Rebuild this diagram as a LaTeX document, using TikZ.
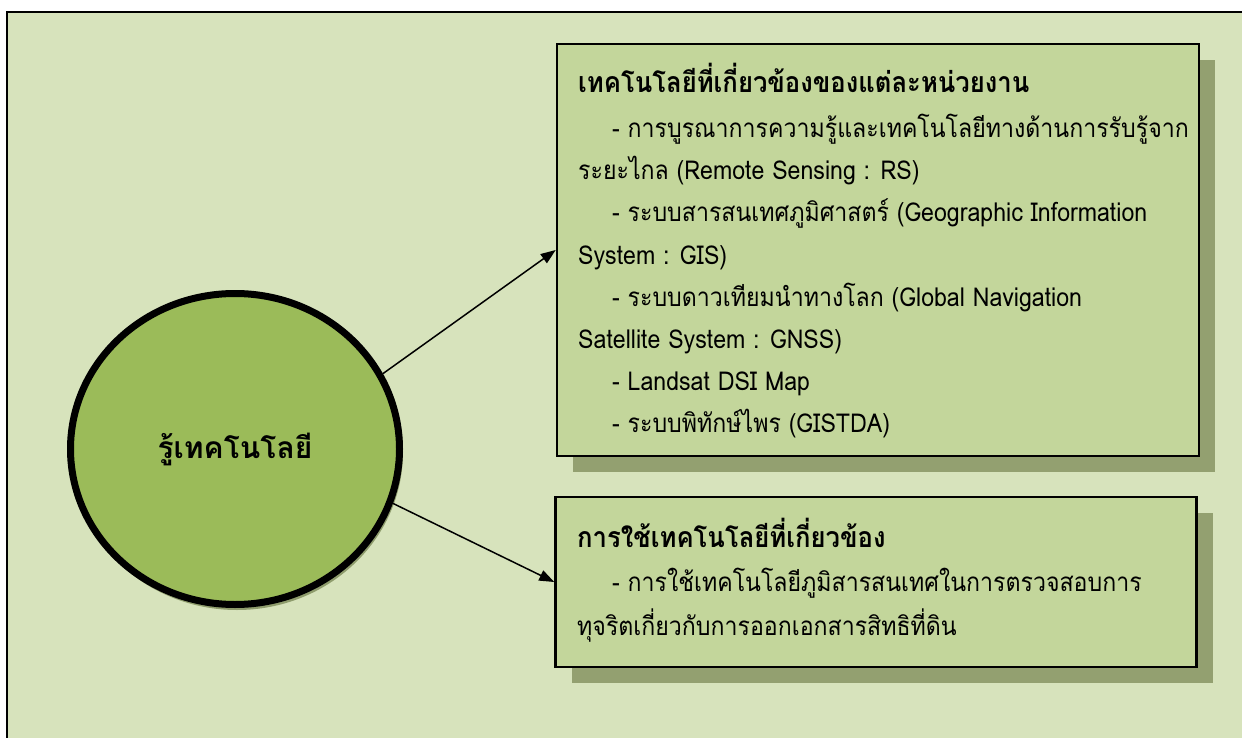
\documentclass[tikz,border=0pt]{standalone}
\usepackage{fontspec}
\setmainfont[Script=Thai]{Loma}
\newfontfamily\bodyfont[Script=Thai,FakeStretch=0.89]{Loma}
\newfontfamily\titlefont[Script=Thai,FakeStretch=0.9]{Loma}
\usetikzlibrary{arrows.meta,shapes.geometric}
\definecolor{bgc}{HTML}{D7E3BC}
\definecolor{boxc}{HTML}{C3D69B}
\definecolor{shadc}{HTML}{93A070}
\definecolor{circc}{HTML}{9BBB59}
\definecolor{cshad}{HTML}{8E9C6C}
\tikzset{
  boxshape/.style={draw=black,line width=2.5pt,fill=boxc,rectangle,inner sep=0pt},
  shadowshape/.style={fill=shadc,draw=none,rectangle,inner sep=0pt},
  bodytext/.style={anchor=base west,inner sep=0pt,font=\bodyfont\fontsize{26}{30}\selectfont},
  titletext/.style={anchor=base west,inner sep=0pt,font=\titlefont\fontsize{28.5}{32}\selectfont\bfseries},
  conn/.style={line width=1.5pt,-{Triangle[length=15pt,width=11pt]}}
}
\begin{document}
\begin{tikzpicture}[x=1pt,y=-1pt]
\useasboundingbox (0,0) rectangle (1242,738);
\fill[white] (0,0) rectangle (1242,738);
\draw[line width=2pt,fill=bgc] (7,12) rectangle (1260,760);
% shadows
\node[shadowshape,minimum width=642pt,minimum height=412pt] (s1) at (894,266) {};
\node[shadowshape,minimum width=641pt,minimum height=170pt] (s2) at (892,598) {};
\fill[cshad] (237,452) ellipse (166pt and 158pt);
% boxes
\node[boxshape,minimum width=642pt,minimum height=412pt] (b1) at (878,250) {};
\node[boxshape,minimum width=641pt,minimum height=170pt] (b2) at (876,582) {};
% circle
\node[ellipse,draw=black,line width=7pt,fill=circc,minimum width=329pt,minimum height=311pt,inner sep=0pt,
      font=\fontsize{30}{34}\selectfont\bfseries] (c) at (235,449) {รู้เทคโนโลยี};
% text box 1
\node[titletext] (t1) at (578,93) {เทคโนโลยีที่เกี่ยวข้องของแต่ละหน่วยงาน};
\node[bodytext] (l1) at (612,138) {- การบูรณาการความรู้และเทคโนโลยีทางด้านการรับรู้จาก};
\node[bodytext] (l2) at (578,180) {ระยะไกล (Remote Sensing : RS)};
\node[bodytext] (l3) at (612,222) {- ระบบสารสนเทศภูมิศาสตร์ (Geographic Information};
\node[bodytext] (l4) at (578,264) {System : GIS)};
\node[bodytext] (l5) at (612,306) {- ระบบดาวเทียมนำทางโลก (Global Navigation};
\node[bodytext] (l6) at (578,348) {Satellite System : GNSS)};
\node[bodytext] (l7) at (612,390) {- Landsat DSI Map};
\node[bodytext] (l8) at (612,432) {- ระบบพิทักษ์ไพร (GISTDA)};
% text box 2
\node[titletext] (t2) at (577,547) {การใช้เทคโนโลยีที่เกี่ยวข้อง};
\node[bodytext] (m1) at (612,591) {- การใช้เทคโนโลยีภูมิสารสนเทศในการตรวจสอบการ};
\node[bodytext] (m2) at (577,635) {ทุจริตเกี่ยวกับการออกเอกสารสิทธิที่ดิน};
% connectors
\draw[conn] (c.27) -- (b1.west);
\draw[conn] (c.-19) -- (b2.west);
\end{tikzpicture}
\end{document}
